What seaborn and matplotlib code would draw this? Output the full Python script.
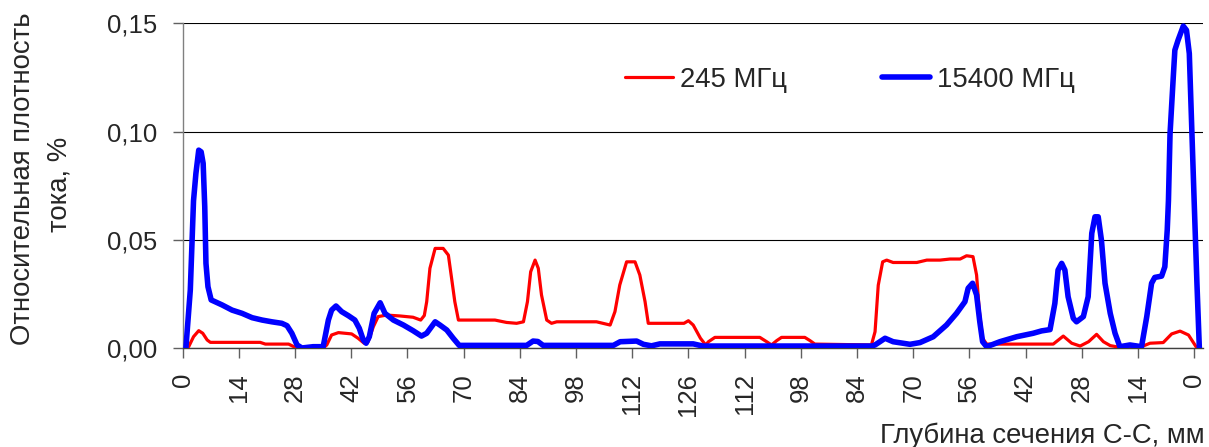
import matplotlib
matplotlib.use("Agg")
import matplotlib.pyplot as plt
from matplotlib.lines import Line2D
import seaborn as sns
import pandas as pd

# Position along the C-C section path (mm, 0 -> 126 -> 0 unfolded to 0..252)
pos_245 = [0.8, 1.5, 2.7, 4.0, 5.0, 6.1, 6.9, 19.3, 20.6, 26.4, 27.7, 28.5, 35.0, 35.9,
           37.1, 38.8, 42.1, 43.7, 45.2, 46.2, 47.5, 48.7, 50.8, 54.1, 57.4, 59.3, 60.2,
           60.8, 61.6, 62.9, 64.9, 66.2, 67.0, 67.8, 68.7, 70.3, 77.8, 80.7, 83.2, 84.9,
           85.9, 86.7, 87.8, 88.6, 89.4, 90.7, 91.9, 93.2, 103.1, 106.5, 107.7, 108.9,
           110.6, 112.7, 113.9, 115.2, 116.0, 118.1, 124.9, 126.0, 127.2, 129.0, 130.3,
           131.0, 132.6, 143.8, 145.5, 146.7, 148.0, 149.2, 155.0, 156.3, 157.5, 171.6,
           172.5, 173.3, 174.4, 175.4, 177.0, 182.9, 185.4, 188.7, 191.2, 193.7, 195.3,
           196.9, 197.8, 198.5, 199.3, 200.3, 216.9, 219.4, 221.5, 223.6, 225.7, 227.7,
           229.4, 231.1, 233.5, 238.5, 241.0, 244.3, 246.4, 248.5, 250.6, 252.2, 252.7]
val_245 = [0.0, 0.0006, 0.0052, 0.008, 0.0068, 0.0037, 0.0026, 0.0026, 0.0018, 0.0018,
           0.0006, 0.0, 0.0, 0.0014, 0.006, 0.0071, 0.0065, 0.0045, 0.0022, 0.0029, 0.0098,
           0.0145, 0.0152, 0.0148, 0.0142, 0.0129, 0.015, 0.0214, 0.0368, 0.046, 0.046,
           0.0429, 0.0322, 0.0214, 0.0129, 0.0129, 0.0129, 0.0118, 0.0114, 0.0121, 0.0214,
           0.0352, 0.0406, 0.0368, 0.0245, 0.0129, 0.0114, 0.0121, 0.0121, 0.0106, 0.0168,
           0.0291, 0.0398, 0.0398, 0.0337, 0.0214, 0.0114, 0.0114, 0.0114, 0.0126, 0.0106,
           0.0045, 0.0014, 0.0029, 0.0049, 0.0049, 0.0029, 0.0014, 0.0034, 0.0049, 0.0049,
           0.0034, 0.0018, 0.0014, 0.0075, 0.029, 0.0398, 0.0406, 0.0395, 0.0395, 0.0406,
           0.0406, 0.0411, 0.0411, 0.0426, 0.0422, 0.0337, 0.0168, 0.0045, 0.0018, 0.0018,
           0.0055, 0.0022, 0.0009, 0.0029, 0.0063, 0.0029, 0.0011, 0.0003, 0.0003, 0.0022,
           0.0025, 0.0065, 0.0078, 0.006, 0.0014, 0.0]

pos_15400 = [0.8, 1.9, 2.7, 3.3, 4.0, 4.6, 5.1, 5.5, 5.8, 6.3, 7.1, 9.8, 12.3, 14.8, 17.3,
             19.8, 22.2, 24.7, 26.0, 27.2, 28.5, 29.7, 32.5, 35.0, 36.3, 37.1, 38.2, 39.6,
             41.3, 42.9, 44.0, 45.0, 45.7, 46.5, 47.7, 49.2, 50.4, 52.5, 55.0, 57.4, 59.5,
             60.8, 62.9, 64.1, 65.8, 67.4, 68.9, 85.7, 87.3, 88.5, 89.8, 107.3, 109.0,
             113.1, 114.8, 116.8, 118.9, 127.2, 129.6, 171.7, 172.5, 175.0, 177.0, 181.2,
             183.7, 187.0, 190.3, 192.8, 194.9, 195.7, 196.8, 197.8, 198.6, 199.3, 200.3,
             201.9, 203.6, 207.8, 211.9, 214.0, 216.1, 217.3, 218.1, 219.0, 219.8, 220.6,
             221.9, 222.7, 224.4, 225.6, 226.5, 227.3, 228.1, 228.9, 229.8, 231.1, 232.3,
             233.5, 236.0, 238.9, 240.2, 241.4, 242.2, 243.9, 244.7, 245.3, 245.6, 246.0,
             246.8, 247.2, 248.0, 249.3, 250.1, 250.8, 251.4, 252.0, 252.7, 253.3]
val_15400 = [0.0, 0.0268, 0.068, 0.0807, 0.0914, 0.0906, 0.0853, 0.0652, 0.0391, 0.0283,
             0.0222, 0.0199, 0.0175, 0.016, 0.014, 0.0129, 0.0121, 0.0114, 0.0103, 0.0068,
             0.0014, 0.0, 0.0006, 0.0006, 0.0129, 0.0175, 0.0194, 0.0168, 0.0149, 0.0129,
             0.0091, 0.0037, 0.0022, 0.0052, 0.016, 0.0209, 0.016, 0.0129, 0.0106, 0.008,
             0.0055, 0.0068, 0.0121, 0.0106, 0.0083, 0.0045, 0.0012, 0.0012, 0.0032, 0.003,
             0.0012, 0.0012, 0.0029, 0.0032, 0.0017, 0.001, 0.0019, 0.0019, 0.0009, 0.0009,
             0.0014, 0.0045, 0.0029, 0.0017, 0.0025, 0.0052, 0.0106, 0.016, 0.0214, 0.0276,
             0.0299, 0.0245, 0.0121, 0.0029, 0.0006, 0.0017, 0.0029, 0.0052, 0.0068, 0.0079,
             0.0085, 0.0206, 0.036, 0.0391, 0.036, 0.0237, 0.0137, 0.0121, 0.0145, 0.0237,
             0.053, 0.0606, 0.0606, 0.0499, 0.0299, 0.016, 0.0068, 0.0006, 0.0014, 0.0006,
             0.0145, 0.0299, 0.0326, 0.0332, 0.0375, 0.0545, 0.068, 0.099, 0.125, 0.1376,
             0.1422, 0.1487, 0.1468, 0.136, 0.1022, 0.0683, 0.0299, 0.0]

tick_pos = [0, 14, 28, 42, 56, 70, 84, 98, 112, 126, 140, 154, 168, 182, 196, 210, 224, 238, 252]
tick_labels = ["0", "14", "28", "42", "56", "70", "84", "98", "112", "126",
               "112", "98", "84", "70", "56", "42", "28", "14", "0"]
y_ticks = [0.0, 0.05, 0.10, 0.15]
y_labels = ["0,00", "0,05", "0,10", "0,15"]

series_names = ["245 МГц", "15400 МГц"]

df = pd.concat([
    pd.DataFrame({"pos": pos_245, "val": val_245, "series": series_names[0]}),
    pd.DataFrame({"pos": pos_15400, "val": val_15400, "series": series_names[1]}),
], ignore_index=True)

sns.set_style("white")
plt.rcParams["font.family"] = ["Liberation Sans", "DejaVu Sans"]
FS = 18.5      # tick labels
FS_T = 19.8    # axis titles and legend

fig = plt.figure(figsize=(12.09, 4.47), dpi=100)
ax = fig.add_axes([0.1511, 0.2215, 0.995 - 0.1511, 0.9479 - 0.2215])

palette = {series_names[0]: "#ff0000", series_names[1]: "#0000ff"}
sns.lineplot(data=df, x="pos", y="val", hue="series", palette=palette,
             estimator=None, sort=False, ax=ax, legend=False)
ax.lines[0].set_linewidth(2.3)
ax.lines[1].set_linewidth(4.0)
for ln in ax.lines:
    ln.set_solid_joinstyle("round")
    ln.set_solid_capstyle("round")
    ln.set_zorder(3)

ax.set_xlim(0, 254.2)
ax.set_ylim(0, 0.15)
ax.set_xticks(tick_pos)
ax.set_xticklabels(tick_labels, rotation=90, fontsize=FS)
ax.set_yticks(y_ticks)
ax.set_yticklabels(y_labels, fontsize=FS)
ax.set_xlabel("")
ax.set_ylabel("")

ax.yaxis.grid(True, color="black", linewidth=0.8)
ax.set_axisbelow(True)
for s in ["top", "right"]:
    ax.spines[s].set_visible(False)
ax.spines["left"].set_color("#808080")
ax.spines["left"].set_linewidth(1.0)
ax.spines["bottom"].set_color("#404040")
ax.spines["bottom"].set_linewidth(1.0)
ax.tick_params(axis="y", direction="out", length=7, width=1, color="#606060",
               pad=11, left=True)
ax.tick_params(axis="x", direction="out", length=7, width=1, color="#606060",
               pad=11, bottom=True)

# legend entries
handles = [Line2D([], [], color="#ff0000", lw=2.3),
           Line2D([], [], color="#0000ff", lw=4.0)]
fig.legend(handles, series_names, loc="center left",
           bbox_to_anchor=(625 / 1209, 1 - 80 / 447), ncol=2, frameon=False,
           fontsize=FS_T, handlelength=1.75, handletextpad=0.25, columnspacing=3.45,
           borderpad=0, borderaxespad=0)

fig.text(23 / 1209, 1 - 179 / 447, "Относительная плотность", rotation=90,
         ha="center", va="center", fontsize=FS_T)
fig.text(60 / 1209, 1 - 184 / 447, "тока, %", rotation=90,
         ha="center", va="center", fontsize=FS_T)
fig.text(1205 / 1209, 4 / 447, "Глубина сечения С-С, мм", ha="right",
         va="baseline", fontsize=FS_T)

fig.savefig("out.png", dpi=100)
